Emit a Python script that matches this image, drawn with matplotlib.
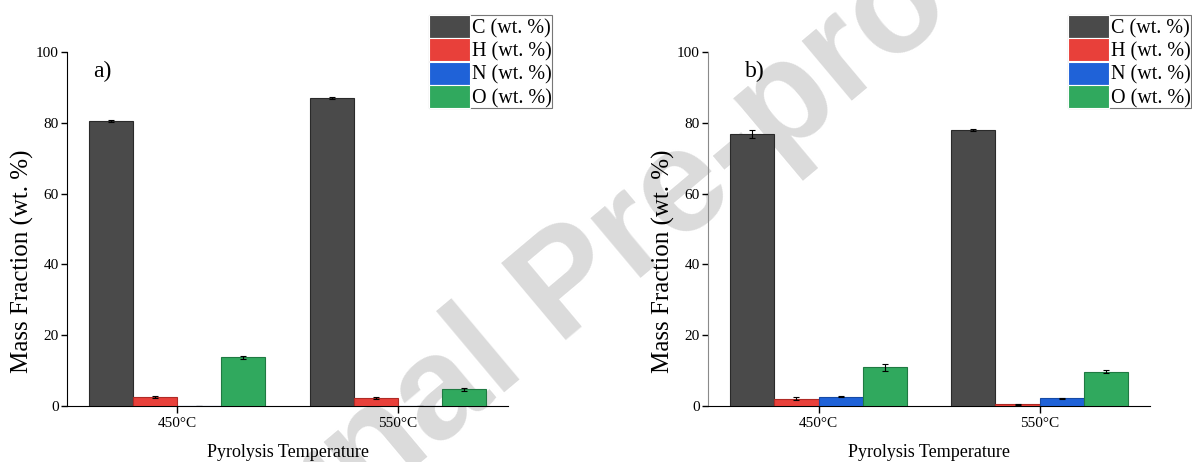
import matplotlib
matplotlib.use("Agg")
import matplotlib.pyplot as plt
import numpy as np
from matplotlib.patches import Patch

plt.rcParams["font.family"] = "Liberation Serif"

temperatures = ["450\u00b0C", "550\u00b0C"]
elements = ["C (wt. %)", "H (wt. %)", "N (wt. %)", "O (wt. %)"]
colors = ["#4a4a4a", "#e8403a", "#1f62d8", "#30a95e"]
edges = ["#2a2a2a", "#b02a25", "#164aa5", "#1f7a42"]

# rows: element, columns: temperature
mass_a = [[80.5, 87.0], [2.6, 2.3], [0.1, 0.1], [13.8, 4.7]]
err_a = [[0.2, 0.2], [0.2, 0.2], [0.0, 0.0], [0.4, 0.4]]
mass_b = [[76.9, 78.0], [2.1, 0.5], [2.6, 2.2], [11.0, 9.7]]
err_b = [[1.2, 0.2], [0.4, 0.1], [0.1, 0.1], [1.0, 0.4]]


def draw_panel(ax, mass, err, tag, tag_x, spine_color, leg_x):
    x = np.arange(len(temperatures))
    width = 0.2
    for i, name in enumerate(elements):
        ax.bar(x + (i - 1.5) * width, mass[i], width, yerr=err[i],
               color=colors[i], edgecolor=edges[i], linewidth=0.8,
               error_kw=dict(ecolor="black", elinewidth=0.8, capsize=2, capthick=0.8),
               label=name, zorder=3)
    ax.set_xlim(-0.5, 1.5)
    ax.set_ylim(0, 100)
    ax.set_yticks([0, 20, 40, 60, 80, 100])
    ax.set_xticks(x)
    ax.set_xticklabels(temperatures)
    ax.tick_params(axis="both", direction="out", labelsize=11, width=1.0)
    ax.tick_params(axis="y", length=4, pad=2)
    ax.tick_params(axis="x", length=5, pad=3)
    for side in ("top", "right"):
        ax.spines[side].set_visible(False)
    ax.spines["left"].set_color(spine_color)
    ax.set_facecolor("none")
    ax.set_ylabel("Mass Fraction (wt. %)", fontsize=18, va="center")
    ax.yaxis.set_label_coords(-0.1, 0.41)
    ax.set_xlabel("Pyrolysis Temperature", fontsize=13, va="center")
    ax.xaxis.set_label_coords(0.5, -0.13)
    ax.text(tag_x, 0.945, tag, transform=ax.transAxes, fontsize=17,
            va="center", ha="left")
    handles = [Patch(facecolor=c, edgecolor="white", linewidth=0.8) for c in colors]
    leg = ax.legend(handles, elements, loc="upper right", bbox_to_anchor=(leg_x, 1.105),
                    fontsize=14.5, frameon=True, fancybox=False, borderpad=0.0,
                    borderaxespad=0.0, labelspacing=0.0, handlelength=2.05,
                    handleheight=1.4, handletextpad=0.1)
    leg.get_frame().set_edgecolor("#555555")
    leg.get_frame().set_linewidth(0.8)


fig = plt.figure(figsize=(11.92, 4.62), dpi=100)
fig.text(0.105, -0.54, "Journal Pre-proof", family="Liberation Sans", fontweight="bold",
         fontsize=105, color="#dbdbdb", rotation=40, rotation_mode="anchor",
         ha="left", va="baseline", zorder=-1)

ax_a = fig.add_axes([0.0562, 0.1212, 0.370, 0.7662])
ax_b = fig.add_axes([0.594, 0.1212, 0.371, 0.7662])
draw_panel(ax_a, mass_a, err_a, "a)", 0.06, "black", 1.10)
draw_panel(ax_b, mass_b, err_b, "b)", 0.084, "#8a8a8a", 1.092)

fig.savefig("out.png", dpi=100)
